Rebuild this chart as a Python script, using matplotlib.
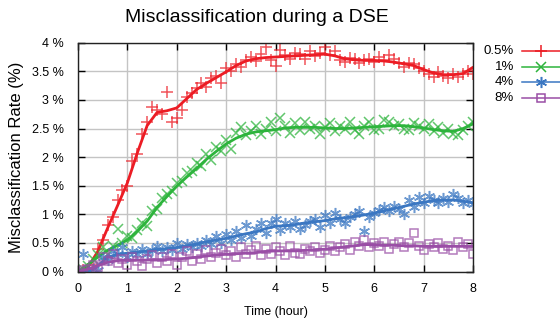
import matplotlib
matplotlib.use("Agg")
import matplotlib.pyplot as plt
from matplotlib import font_manager
from matplotlib.lines import Line2D
import numpy as np

# raw misclassification samples, one every 0.1 h
sample_hours = np.round(np.arange(0, 8.01, 0.1), 2)

rate_05 = [0.0, 0.02, 0.05, 0.12, 0.4, 0.55, 0.82, 0.95, 1.25, 1.42,
           1.5, 1.93, 2.05, 2.4, 2.62, 2.88, 2.82, 2.76, 3.13, 2.62,
           2.68, 2.83, 3.05, 3.12, 3.2, 3.3, 3.22, 3.38, 3.42, 3.3,
           3.55, 3.5, 3.62, 3.58, 3.7, 3.75, 3.68, 3.8, 3.93, 3.7,
           3.6, 3.88, 3.78, 3.72, 3.82, 3.8, 3.71, 3.85, 3.76, 3.82,
           3.92, 3.78, 3.85, 3.7, 3.66, 3.74, 3.72, 3.65, 3.7, 3.72,
           3.67, 3.75, 3.7, 3.78, 3.72, 3.65, 3.58, 3.65, 3.62, 3.55,
           3.5, 3.45, 3.4, 3.48, 3.42, 3.38, 3.45, 3.4, 3.46, 3.5,
           3.45]
rate_1 = [0.0, 0.05, 0.1, 0.22, 0.28, 0.42, 0.3, 0.45, 0.75, 0.5,
          0.62, 0.58, 0.72, 0.85, 0.8, 1.05, 1.1, 1.28, 1.35, 1.4,
          1.55, 1.58, 1.72, 1.75, 1.9, 1.85, 2.05, 1.95, 2.18, 2.1,
          2.3, 2.15, 2.42, 2.52, 2.38, 2.45, 2.55, 2.4, 2.5, 2.62,
          2.45, 2.68, 2.55, 2.42, 2.6, 2.48, 2.62, 2.5, 2.55, 2.4,
          2.52, 2.6, 2.45, 2.55, 2.5, 2.62, 2.47, 2.4, 2.55, 2.62,
          2.48, 2.5, 2.65, 2.62, 2.55, 2.58, 2.5, 2.48, 2.6, 2.55,
          2.5, 2.58, 2.45, 2.52, 2.42, 2.5, 2.4, 2.38, 2.48, 2.55,
          2.62]
rate_4 = [0.0, 0.3, 0.0, 0.05, 0.02, 0.25, 0.2, 0.35, 0.3, 0.42,
          0.25, 0.35, 0.3, 0.4, 0.3, 0.38, 0.45, 0.35, 0.42, 0.38,
          0.5, 0.4, 0.48, 0.42, 0.5, 0.45, 0.55, 0.48, 0.62, 0.5,
          0.65, 0.55, 0.7, 0.58, 0.82, 0.62, 0.75, 0.85, 0.68, 0.85,
          0.92, 0.72, 0.85, 0.78, 0.88, 0.75, 0.82, 0.88, 0.92, 0.78,
          0.98, 0.85, 1.02, 0.92, 0.85, 0.95, 1.0, 1.05, 0.7, 0.95,
          1.02, 1.08, 1.12, 1.05, 1.15, 1.1, 1.0, 1.25, 1.12, 1.3,
          1.2, 1.32, 1.25, 1.2, 1.28, 1.22, 1.35, 1.28, 1.2, 1.25,
          1.18]
rate_8 = [0.0, 0.02, 0.05, 0.12, 0.08, 0.25, 0.18, 0.3, 0.15, 0.22,
          0.12, 0.25, 0.18, 0.1, 0.22, 0.28, 0.15, 0.25, 0.18, 0.3,
          0.12, 0.25, 0.35, 0.18, 0.3, 0.22, 0.38, 0.25, 0.32, 0.4,
          0.28, 0.35, 0.25, 0.42, 0.3, 0.38, 0.45, 0.28, 0.4, 0.3,
          0.42, 0.35, 0.28, 0.45, 0.32, 0.3, 0.4, 0.35, 0.42, 0.32,
          0.38, 0.45, 0.35, 0.42, 0.48, 0.38, 0.52, 0.45, 0.55, 0.42,
          0.5, 0.45, 0.52, 0.4, 0.48, 0.52, 0.42, 0.5, 0.67, 0.45,
          0.38, 0.48, 0.42, 0.5, 0.4, 0.45, 0.38, 0.52, 0.42, 0.48,
          0.3]

# smoothed trend, one value every 0.2 h
trend_hours = np.round(np.arange(0, 8.01, 0.2), 2)

trend_05 = [0.0, 0.07, 0.35, 0.76, 1.15, 1.55, 2.07, 2.55, 2.78, 2.81,
            2.86, 3.02, 3.18, 3.29, 3.39, 3.49, 3.6, 3.68, 3.72, 3.74,
            3.75, 3.76, 3.77, 3.78, 3.79, 3.8, 3.77, 3.72, 3.7, 3.69,
            3.69, 3.68, 3.66, 3.63, 3.6, 3.53, 3.47, 3.44, 3.44, 3.46,
            3.57]
trend_1 = [0.0, 0.12, 0.25, 0.37, 0.46, 0.55, 0.7, 0.88, 1.12, 1.31,
           1.49, 1.65, 1.8, 1.96, 2.1, 2.23, 2.33, 2.4, 2.44, 2.46,
           2.48, 2.51, 2.52, 2.52, 2.52, 2.51, 2.5, 2.5, 2.51, 2.52,
           2.53, 2.54, 2.55, 2.55, 2.53, 2.51, 2.48, 2.46, 2.45, 2.5,
           2.58]
trend_4 = [0.0, 0.02, 0.1, 0.25, 0.3, 0.32, 0.34, 0.36, 0.38, 0.4,
           0.42, 0.45, 0.48, 0.52, 0.55, 0.58, 0.62, 0.66, 0.69, 0.75,
           0.79, 0.8, 0.82, 0.85, 0.87, 0.89, 0.92, 0.94, 0.96, 0.99,
           1.02, 1.06, 1.1, 1.14, 1.18, 1.21, 1.24, 1.25, 1.25, 1.23,
           1.2]
trend_8 = [0.0, 0.04, 0.1, 0.16, 0.19, 0.2, 0.2, 0.2, 0.2, 0.21,
           0.22, 0.23, 0.25, 0.27, 0.29, 0.3, 0.31, 0.32, 0.33, 0.35,
           0.36, 0.36, 0.36, 0.37, 0.38, 0.39, 0.41, 0.43, 0.45, 0.47,
           0.47, 0.46, 0.46, 0.45, 0.45, 0.44, 0.44, 0.44, 0.44, 0.44,
           0.44]

series_labels = ["0.5%", "1%", "4%", "8%"]
x_ticks = [0, 1, 2, 3, 4, 5, 6, 7, 8]
y_ticks = [0, 0.5, 1, 1.5, 2, 2.5, 3, 3.5, 4]

# style
names = {f.name for f in font_manager.fontManager.ttflist}
if "Liberation Sans Narrow" in names:
    plt.rcParams["font.family"] = ["Liberation Sans Narrow", "DejaVu Sans"]
    fs_tick, fs_key, fs_title = 10.5, 11.5, 15.5
else:
    plt.rcParams["font.family"] = ["Liberation Sans", "DejaVu Sans"]
    fs_tick, fs_key, fs_title = 9, 9.5, 14
ylab_font = ["Liberation Sans", "DejaVu Sans"]

colours = ["#ec1c24", "#2db43c", "#3b77c2", "#9a4ea6"]
markers = ["+", "x", (6, 2, 0), "s"]
msizes = [8, 6.5, 8, 6]

W, H = 560, 324
fig = plt.figure(figsize=(W / 100, H / 100), dpi=100)
ax = fig.add_axes([78 / W, 1 - 271.5 / H, (473 - 78) / W, (271.5 - 42.7) / H])

samples = [rate_05, rate_1, rate_4, rate_8]
trends = [trend_05, trend_1, trend_4, trend_8]

for vals, tr, c, m, ms in zip(samples, trends, colours, markers, msizes):
    face = "none" if m == "s" else c
    ax.plot(sample_hours, vals, linestyle="none", marker=m, ms=ms,
            mew=1.1, mec=c, mfc=face, alpha=0.75)
    ax.plot(trend_hours, tr, color=c, lw=2.0, solid_capstyle="round")

ax.set_xlim(0, 8)
ax.set_ylim(0, 4)
ax.set_xticks(x_ticks)
ax.set_xticklabels([str(v) for v in x_ticks])
ax.set_yticks(y_ticks)
ax.set_yticklabels([f"{v:g} %" for v in y_ticks])
ax.grid(True, color="#c4c4c4", lw=1)
ax.set_axisbelow(True)
ax.tick_params(direction="in", length=5, width=1, top=True, right=True,
               labelsize=fs_tick, colors="black")
ax.tick_params(axis="y", pad=10)
ax.tick_params(axis="x", pad=8)
for s in ax.spines.values():
    s.set_linewidth(1)
    s.set_color("#222222")

fig.text(257 / W, 1 - 17 / H, "Misclassification during a DSE",
         ha="center", va="center", fontsize=fs_title)
fig.text(17 / W, 1 - 157 / H, "Misclassification Rate (%)",
         rotation=90, ha="center", va="center", fontsize=12,
         family=ylab_font)
fig.text(276 / W, 1 - 312 / H, "Time (hour)",
         ha="center", va="center", fontsize=fs_tick)

# key, gnuplot style: label right-aligned, sample line to the right
for i, (lab, c, m, ms) in enumerate(zip(series_labels, colours, markers, msizes)):
    yy = 1 - (50.7 + 15.8 * i) / H
    fig.text(514 / W, yy, lab, ha="right", va="center", fontsize=fs_key)
    fig.add_artist(Line2D([521.7 / W, 1.0], [yy, yy], color=c, lw=1.1,
                          transform=fig.transFigure))
    face = "none" if m == "s" else c
    fig.add_artist(Line2D([540.7 / W], [yy], marker=m, ms=ms, mew=1.1,
                          mec=c, mfc=face, linestyle="none",
                          transform=fig.transFigure))

fig.savefig("out.png", dpi=100)
